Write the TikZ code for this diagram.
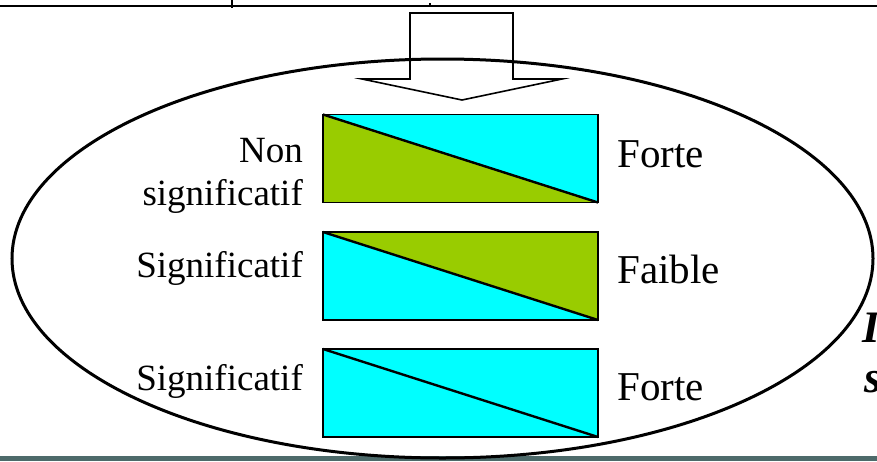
\documentclass[tikz,border=0pt]{standalone}
\usepackage{fontspec}
\usetikzlibrary{shapes.geometric}
\setmainfont{Liberation Serif}
\definecolor{aqua}{HTML}{00FFFF}
\definecolor{lime}{HTML}{99CC00}
\definecolor{barcol}{HTML}{4D6A6A}
\begin{document}
\begin{tikzpicture}[x=1pt,y=-1pt,
  panel/.style={draw=black,line width=1.4pt,minimum width=275pt,minimum height=88pt,inner sep=0pt,outer sep=0pt,fill=aqua},
  diag/.style={draw=black,line width=2.4pt},
  lefttxt/.style={font=\fontsize{37}{43}\selectfont,inner sep=0pt,align=right,anchor=base east},
  righttxt/.style={font=\fontsize{41}{47}\selectfont,inner sep=0pt,anchor=base west},
  cuttxt/.style={font=\fontsize{45}{50}\selectfont\bfseries\itshape,inner sep=0pt,anchor=base west}]
\useasboundingbox (0,0) rectangle (877,461);
\begin{scope}
\clip (0,0) rectangle (877,461);
% top rule
\coordinate (tl) at (0,6);
\coordinate (tr) at (877,6);
\draw[line width=1.6pt] (tl) -- (tr);
\coordinate (tk1) at (232,0);
\coordinate (tk2) at (232,7.5);
\draw[line width=2.6pt] (tk1) -- (tk2);
\node[fill=black,minimum size=2pt,inner sep=0pt] (dot) at (430,3.5) {};
% bottom bar
\node[fill=barcol,minimum width=877pt,minimum height=5pt,inner sep=0pt,anchor=south west] (bar) at (0,461.5) {};
% big hollow arrow
\draw[line width=1.6pt,fill=white,line join=miter]
  (410,13) -- (513,13) -- (513,79) -- (562,79) -- (462,100) -- (362,79) -- (410,79) -- cycle;
% ellipse
\node[draw=black,line width=3pt,ellipse,minimum width=861pt,minimum height=399pt,inner sep=0pt] (ell) at (442.5,258.5) {};
% panels
\node[panel] (r1) at (460.5,158.5) {};
\fill[lime] (r1.north west) -- (r1.south west) -- (r1.south east) -- cycle;
\draw[line width=1.4pt] (r1.north west) rectangle (r1.south east);
\draw[diag] (r1.north west) -- (r1.south east);

\node[panel] (r2) at (460.5,276) {};
\fill[lime] (r2.north west) -- (r2.north east) -- (r2.south east) -- cycle;
\draw[line width=1.4pt] (r2.north west) rectangle (r2.south east);
\draw[diag] (r2.north west) -- (r2.south east);

\node[panel] (r3) at (460.5,393) {};
\draw[diag] (r3.north west) -- (r3.south east);
% labels
\node[lefttxt] (l1) at (303,205) {Non\\significatif};
\node[lefttxt] (l2) at (303,277) {Significatif};
\node[lefttxt] (l3) at (303,390) {Significatif};
\node[righttxt] (f1) at (617,167) {Forte};
\node[righttxt] (f2) at (617,283) {Faible};
\node[righttxt] (f3) at (617,400) {Forte};
% cut-off text at right edge
\node[cuttxt] (c1) at (862,342) {I};
\node[cuttxt] (c2) at (864,392) {s};
\end{scope}
\end{tikzpicture}
\end{document}
